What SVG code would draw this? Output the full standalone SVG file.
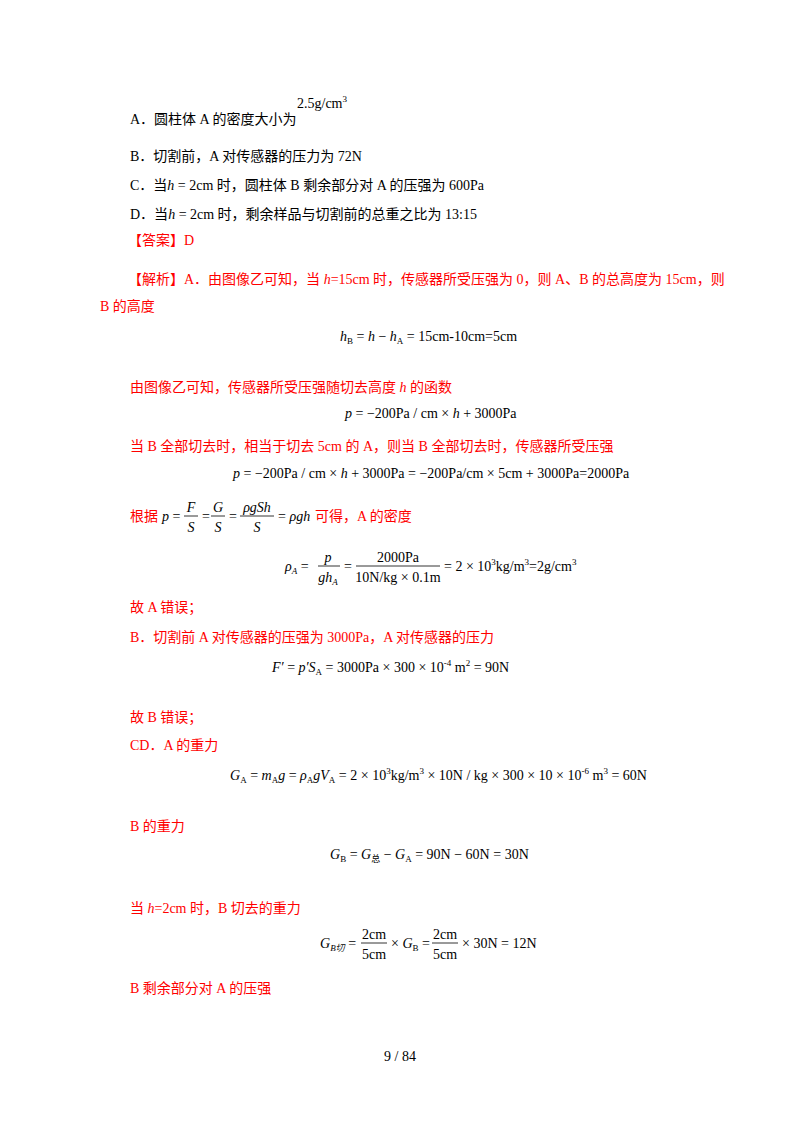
<svg xmlns="http://www.w3.org/2000/svg" width="800" height="1132" viewBox="0 0 800 1132">
<style>
text{font-family:"Liberation Serif","Noto Sans CJK SC",serif;font-size:14px;fill:#000}
.r{fill:#ff0000}
.i{font-style:italic}
.s{font-size:9px}
.m{text-anchor:middle}
line{stroke:#000;stroke-width:0.8}
</style>
<rect width="800" height="1132" fill="#fff"/>
<text x="130" y="124">A．圆柱体 A 的密度大小为</text>
<text x="297" y="108">2.5g/cm<tspan class="s" dy="-6">3</tspan></text>
<text x="130" y="161">B．切割前，A 对传感器的压力为 72N</text>
<text x="130" y="190">C．当<tspan class="i">h</tspan> = 2cm 时，圆柱体 B 剩余部分对 A 的压强为 600Pa</text>
<text x="130" y="219">D．当<tspan class="i">h</tspan> = 2cm 时，剩余样品与切割前的总重之比为 13:15</text>
<text class="r" x="128" y="245">【答案】D</text>
<text class="r" x="128" y="284">【解析】A．由图像乙可知，当 <tspan class="i">h</tspan>=15cm 时，传感器所受压强为 0，则 A、B 的总高度为 15cm，则</text>
<text class="r" x="100" y="311">B 的高度</text>
<text x="340" y="341"><tspan class="i">h</tspan><tspan class="s" dy="3">B</tspan><tspan dy="-3"> = </tspan><tspan class="i">h</tspan> − <tspan class="i">h</tspan><tspan class="s" dy="3">A</tspan><tspan dy="-3"> = 15cm-10cm=5cm</tspan></text>
<text class="r" x="130" y="392">由图像乙可知，传感器所受压强随切去高度 <tspan class="i">h</tspan> 的函数</text>
<text x="345" y="418"><tspan class="i">p</tspan> = −200Pa / cm × <tspan class="i">h</tspan> + 3000Pa</text>
<text class="r" x="130" y="451">当 B 全部切去时，相当于切去 5cm 的 A，则当 B 全部切去时，传感器所受压强</text>
<text x="233" y="478"><tspan class="i">p</tspan> = −200Pa / cm × <tspan class="i">h</tspan> + 3000Pa = −200Pa/cm × 5cm + 3000Pa=2000Pa</text>
<text class="r" x="130" y="521">根据</text>
<text x="162" y="521"><tspan class="i">p</tspan> =</text>
<text class="m i" x="191" y="512">F</text><line x1="184" y1="516" x2="198" y2="516"/><text class="m i" x="191" y="532">S</text>
<text x="202" y="521">=</text>
<text class="m i" x="218" y="512">G</text><line x1="211" y1="516" x2="225" y2="516"/><text class="m i" x="218" y="532">S</text>
<text x="229" y="521">=</text>
<text class="m i" x="257" y="512">ρgSh</text><line x1="240" y1="516" x2="274" y2="516"/><text class="m i" x="257" y="532">S</text>
<text x="278" y="521">= <tspan class="i">ρgh</tspan></text>
<text class="r" x="315" y="521">可得，A 的密度</text>
<text x="285" y="571"><tspan class="i">ρ</tspan><tspan class="s i" dy="3">A</tspan><tspan dy="-3"> =</tspan></text>
<text class="m i" x="328" y="562">p</text><line x1="318" y1="566" x2="340" y2="566"/><text class="m i" x="328" y="582">gh<tspan class="s" dy="3">A</tspan></text>
<text x="344" y="571">=</text>
<text class="m" x="398" y="562">2000Pa</text><line x1="356" y1="566" x2="440" y2="566"/><text class="m" x="398" y="582">10N/kg × 0.1m</text>
<text x="444" y="571">= 2 × 10<tspan class="s" dy="-6">3</tspan><tspan dy="6">kg/m</tspan><tspan class="s" dy="-6">3</tspan><tspan dy="6">=2g/cm</tspan><tspan class="s" dy="-6">3</tspan></text>
<text class="r" x="130" y="612">故 A 错误；</text>
<text class="r" x="130" y="642">B．切割前 A 对传感器的压强为 3000Pa，A 对传感器的压力</text>
<text x="272" y="672"><tspan class="i">F′</tspan> = <tspan class="i">p′S</tspan><tspan class="s" dy="3">A</tspan><tspan dy="-3"> = 3000Pa × 300 × 10</tspan><tspan class="s" dy="-6">-4</tspan><tspan dy="6"> m</tspan><tspan class="s" dy="-6">2</tspan><tspan dy="6"> = 90N</tspan></text>
<text class="r" x="130" y="722">故 B 错误；</text>
<text class="r" x="130" y="750">CD．A 的重力</text>
<text x="230" y="780"><tspan class="i">G</tspan><tspan class="s" dy="3">A</tspan><tspan dy="-3"> = </tspan><tspan class="i">m</tspan><tspan class="s" dy="3">A</tspan><tspan dy="-3" class="i">g</tspan> = <tspan class="i">ρ</tspan><tspan class="s" dy="3">A</tspan><tspan dy="-3" class="i">gV</tspan><tspan class="s" dy="3">A</tspan><tspan dy="-3"> = 2 × 10</tspan><tspan class="s" dy="-6">3</tspan><tspan dy="6">kg/m</tspan><tspan class="s" dy="-6">3</tspan><tspan dy="6"> × 10N / kg × 300 × 10 × 10</tspan><tspan class="s" dy="-6">-6</tspan><tspan dy="6"> m</tspan><tspan class="s" dy="-6">3</tspan><tspan dy="6"> = 60N</tspan></text>
<text class="r" x="130" y="831">B 的重力</text>
<text x="330" y="859"><tspan class="i">G</tspan><tspan class="s" dy="3">B</tspan><tspan dy="-3"> = </tspan><tspan class="i">G</tspan><tspan class="s" dy="3">总</tspan><tspan dy="-3"> − </tspan><tspan class="i">G</tspan><tspan class="s" dy="3">A</tspan><tspan dy="-3"> = 90N − 60N = 30N</tspan></text>
<text class="r" x="130" y="913">当 <tspan class="i">h</tspan>=2cm 时，B 切去的重力</text>
<text x="320" y="948"><tspan class="i">G</tspan><tspan class="s i" dy="3">B切</tspan><tspan dy="-3"> =</tspan></text>
<text class="m" x="374" y="939">2cm</text><line x1="361" y1="943" x2="387" y2="943"/><text class="m" x="374" y="959">5cm</text>
<text x="391" y="948">× <tspan class="i">G</tspan><tspan class="s" dy="3">B</tspan><tspan dy="-3"> =</tspan></text>
<text class="m" x="445" y="939">2cm</text><line x1="432" y1="943" x2="458" y2="943"/><text class="m" x="445" y="959">5cm</text>
<text x="462" y="948">× 30N = 12N</text>
<text class="r" x="130" y="993">B 剩余部分对 A 的压强</text>
<text class="m" x="400" y="1061">9  /  84</text>
</svg>
